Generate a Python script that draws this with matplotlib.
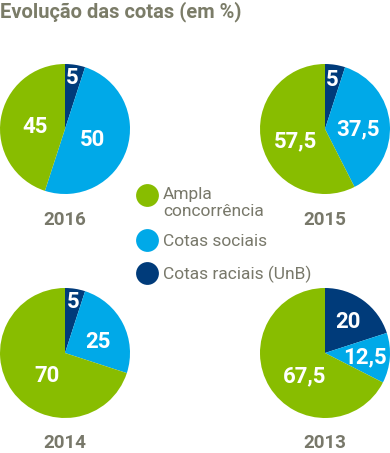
import matplotlib.pyplot as plt

plt.rcParams['font.family'] = ['Roboto', 'DejaVu Sans']

# dados
anos = ['2016', '2015', '2014', '2013']
raciais = [5, 5, 5, 20]
sociais = [50, 37.5, 25, 12.5]
ampla = [45, 57.5, 70, 67.5]
legenda = ['Ampla\nconcorrência', 'Cotas sociais', 'Cotas raciais (UnB)']

cores = ['#003b7a', '#00a9e8', '#88bd00']  # raciais, sociais, ampla
cinza = '#78786a'

W, H = 390, 453
fig = plt.figure(figsize=(W / 100, H / 100), dpi=100)

# camada de fundo em pixels
bg = fig.add_axes([0, 0, 1, 1])
bg.set_xlim(0, W)
bg.set_ylim(H, 0)
bg.axis('off')

bg.text(0, 17, 'Evolução das cotas (em %)', fontsize=14.5, fontweight='bold',
        color='#7b7c68', va='baseline', ha='left')

# posições das pizzas (centro em px) e dos rótulos (unidades do raio)
centros = [(65, 129), (325, 129), (65, 353), (325, 353)]
base_ano = [225, 225, 448, 448]
pos_rot = [
    [(0.11, 0.78), (0.42, -0.17), (-0.46, 0.03)],
    [(0.11, 0.76), (0.51, -0.01), (-0.46, -0.19)],
    [(0.12, 0.78), (0.51, 0.17), (-0.28, -0.36)],
    [(0.36, 0.48), (0.62, -0.06), (-0.31, -0.36)],
]
r = 65


def fmt(v):
    s = ('%g' % v).replace('.', ',')
    return s


for i, ano in enumerate(anos):
    cx, cy = centros[i]
    ax = fig.add_axes([(cx - r) / W, (H - cy - r) / H, 2 * r / W, 2 * r / H])
    vals = [raciais[i], sociais[i], ampla[i]]
    ax.pie(vals, colors=cores, startangle=90, counterclock=False,
           wedgeprops=dict(linewidth=0))
    ax.set_xlim(-1, 1)
    ax.set_ylim(-1, 1)
    ax.set_aspect('equal')
    ax.axis('off')
    for v, (px, py) in zip(vals, pos_rot[i]):
        ax.text(px, py, fmt(v), color='white', fontsize=16, fontweight='bold',
                ha='center', va='center')
    bg.text(cx, base_ano[i], ano, fontsize=13.5, fontweight='bold', color=cinza,
            ha='center', va='baseline')

# legenda
leg_y = [195, 240, 273]
leg_base = [199, 246, 279]
leg_cores = [cores[2], cores[1], cores[0]]
for y, b, c, t in zip(leg_y, leg_base, leg_cores, legenda):
    bg.scatter([147], [y], s=270, color=c, linewidths=0)
    linhas = t.split('\n')
    for k, ln in enumerate(linhas):
        bg.text(163, b + k * 17, ln, fontsize=12.5, color=cinza,
                ha='left', va='baseline')

fig.savefig('out.png', dpi=100)
